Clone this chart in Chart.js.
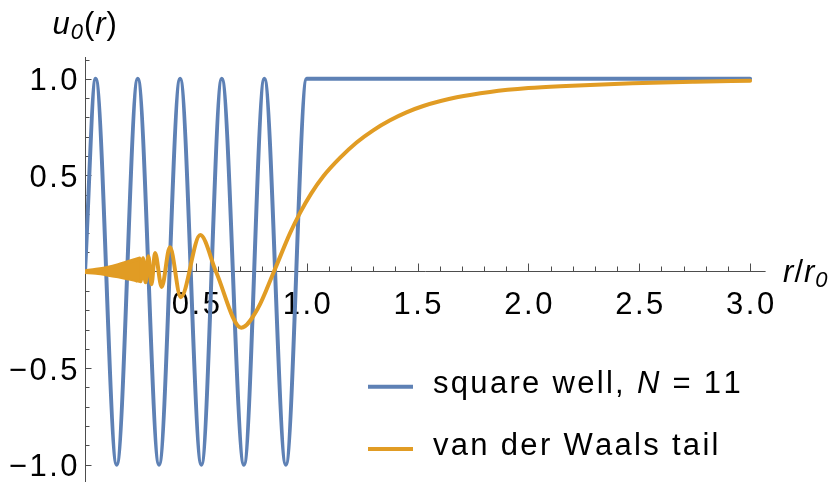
<!DOCTYPE html>
<html>
<head>
<meta charset="utf-8">
<script src="https://cdn.jsdelivr.net/npm/chart.js@4"></script>
<style>
  html, body { margin: 0; padding: 0; background: #fff; }
  canvas { display: block; }
</style>
</head>
<body>
<canvas id="wavefunctions" width="834" height="482"></canvas>
<script>
// square well, N = 11: u0 at r = 0 and at every crest / trough, flat at 1 outside the well
const wellR = [0, 0.048, 0.143, 0.238, 0.334, 0.429, 0.525, 0.617, 0.717, 0.809, 0.906, 1.0, 3.0];
const wellU = [0, 1, -1, 1, -1, 1, -1, 1, -1, 1, -1, 1, 1];

// van der Waals tail near the origin oscillates too fast to resolve: upper / lower envelope
const bandR = [0.0, 0.05, 0.1, 0.15, 0.2, 0.245];
const bandUpper = [0.003, 0.01, 0.02, 0.034, 0.052, 0.068];
const bandLower = [-0.002, -0.006, -0.014, -0.024, -0.036, -0.047];

// van der Waals tail from the first resolved wiggles out to r/r0 = 3
const tailR = [0.232, 0.242, 0.251, 0.262, 0.273, 0.286, 0.3, 0.316, 0.346, 0.383, 0.432,
  0.52, 0.591, 0.705, 0.78, 0.852, 0.925, 0.97, 1.02, 1.075, 1.15, 1.225, 1.3, 1.376, 1.45,
  1.526, 1.677, 1.827, 2.0, 2.17, 2.47, 2.75, 3.0];
const tailU = [-0.045, 0.063, -0.05, 0.07, -0.055, 0.08, -0.065, 0.097, -0.079, 0.127, -0.132,
  0.19, 0.0, -0.29, -0.19, 0.0, 0.2, 0.305, 0.405, 0.495, 0.59, 0.67, 0.733, 0.785, 0.826,
  0.859, 0.904, 0.932, 0.952, 0.963, 0.977, 0.985, 0.99];

const xTicks = [0.5, 1.0, 1.5, 2.0, 2.5, 3.0];
const xTickLabels = ["0.5", "1.0", "1.5", "2.0", "2.5", "3.0"];
const yTicks = [-1.0, -0.5, 0.5, 1.0];
const yTickLabels = ["\u22121.0", "\u22120.5", "0.5", "1.0"];

// legend text, split where the italic symbol goes: [text, italic]
const wellLabel = [["square well, ", false], ["N", true], [" = 11", false]];
const tailLabel = [["van der Waals tail", false]];

const BLUE = "#5e81b5";
const ORANGE = "#e19c24";
const FONT = '"Liberation Sans", Arial, Helvetica, sans-serif';

const toPoints = (xs, ys) => xs.map((x, i) => ({ x, y: ys[i] }));

// draws a run of text pieces glyph by glyph with extra tracking
const drawRun = (ctx, parts, x, y, align, spacing) => {
  const glyphs = [];
  let width = 0;
  for (const p of parts) {
    ctx.font = p.font;
    for (const ch of p.text) {
      const w = ctx.measureText(ch).width;
      glyphs.push({ ch, font: p.font, dy: p.dy || 0, w });
      width += w + spacing;
    }
  }
  width -= spacing;
  let cx = align === "right" ? x - width : align === "center" ? x - width / 2 : x;
  for (const g of glyphs) {
    ctx.font = g.font;
    ctx.fillText(g.ch, cx, y + g.dy);
    cx += g.w + spacing;
  }
};

const regular = `31px ${FONT}`;
const italic = `italic 31px ${FONT}`;
const italicSub = `italic 22px ${FONT}`;

// axes through the origin with inward ticks, tick labels and axis titles
const axesPlugin = {
  id: "originAxes",
  beforeDatasetsDraw(chart) {
    const { ctx, chartArea, scales: { x, y } } = chart;
    const x0 = Math.round(x.getPixelForValue(0)) + 0.5;
    const y0 = Math.floor(y.getPixelForValue(0)) + 0.5;
    ctx.save();
    ctx.strokeStyle = "#4d4d4d";
    ctx.lineWidth = 1;
    ctx.beginPath();
    ctx.moveTo(chartArea.left, y0);
    ctx.lineTo(chartArea.right, y0);
    ctx.moveTo(x0, chartArea.top);
    ctx.lineTo(x0, chartArea.bottom);
    for (let i = 1; i <= 30; i++) {
      const px = Math.round(x.getPixelForValue(i / 10)) + 0.5;
      ctx.moveTo(px, y0);
      ctx.lineTo(px, y0 - (i % 5 === 0 ? 8 : 5));
    }
    for (let i = -10; i <= 11; i++) {
      if (i === 0) continue;
      const py = Math.round(y.getPixelForValue(i / 10)) + 0.5;
      ctx.moveTo(x0, py);
      ctx.lineTo(x0 + (i % 5 === 0 ? 6 : 4), py);
    }
    ctx.stroke();

    ctx.fillStyle = "#000";
    ctx.textBaseline = "alphabetic";
    xTicks.forEach((v, i) => {
      drawRun(ctx, [{ text: xTickLabels[i], font: regular }], x.getPixelForValue(v), y0 + 42, "center", 2.5);
    });
    yTicks.forEach((v, i) => {
      drawRun(ctx, [{ text: yTickLabels[i], font: regular }], x0 - 8, y.getPixelForValue(v) + 11.5, "right", 2.5);
    });

    drawRun(ctx, [
      { text: "u", font: italic },
      { text: "0", font: italicSub, dy: 5 },
      { text: "(", font: regular },
      { text: "r", font: italic },
      { text: ")", font: regular },
    ], x0 - 33, chartArea.top - 23.5, "left", 1);

    drawRun(ctx, [
      { text: "r", font: italic },
      { text: "/", font: regular },
      { text: "r", font: italic },
      { text: "0", font: italicSub, dy: 5 },
    ], chartArea.right + 17.5, y0 + 10.5, "left", 1);
    ctx.restore();
  },
  afterDraw(chart) {
    const { ctx } = chart;
    const rows = [[BLUE, wellLabel], [ORANGE, tailLabel]];
    ctx.save();
    rows.forEach(([color, label], i) => {
      const ly = 386.7 + i * 62.3;
      ctx.strokeStyle = color;
      ctx.lineWidth = 4;
      ctx.beginPath();
      ctx.moveTo(368, ly);
      ctx.lineTo(413, ly);
      ctx.stroke();
      ctx.fillStyle = "#000";
      ctx.textBaseline = "alphabetic";
      const parts = label.map(([text, it]) => ({ text, font: it ? italic : regular }));
      drawRun(ctx, parts, 433, ly + 5.8, "left", 2.3);
    });
    ctx.restore();
  },
};

const lineStyle = {
  pointRadius: 0,
  borderWidth: 4,
  cubicInterpolationMode: "monotone",
  borderCapStyle: "round",
  borderJoinStyle: "round",
};

new Chart(document.getElementById("wavefunctions"), {
  type: "line",
  data: {
    datasets: [
      {
        label: "square well, N = 11",
        data: toPoints(wellR, wellU),
        borderColor: BLUE,
        order: 2,
        ...lineStyle,
      },
      {
        label: "van der Waals tail",
        data: toPoints(bandR, bandUpper),
        borderColor: ORANGE,
        backgroundColor: ORANGE,
        fill: "+1",
        order: 1,
        ...lineStyle,
      },
      {
        label: "van der Waals tail (lower)",
        data: toPoints(bandR, bandLower),
        borderColor: ORANGE,
        order: 1,
        ...lineStyle,
      },
      {
        label: "van der Waals tail",
        data: toPoints(tailR, tailU),
        borderColor: ORANGE,
        order: 1,
        ...lineStyle,
      },
    ],
  },
  options: {
    responsive: false,
    animation: false,
    devicePixelRatio: 1,
    layout: { padding: { left: 85, right: 68.4, top: 57, bottom: 0 } },
    scales: {
      x: { type: "linear", min: 0, max: 3.07, display: false },
      y: { type: "linear", min: -1.09, max: 1.113, display: false },
    },
    plugins: {
      legend: { display: false },
      tooltip: { enabled: false },
    },
  },
  plugins: [axesPlugin],
});
</script>
</body>
</html>
